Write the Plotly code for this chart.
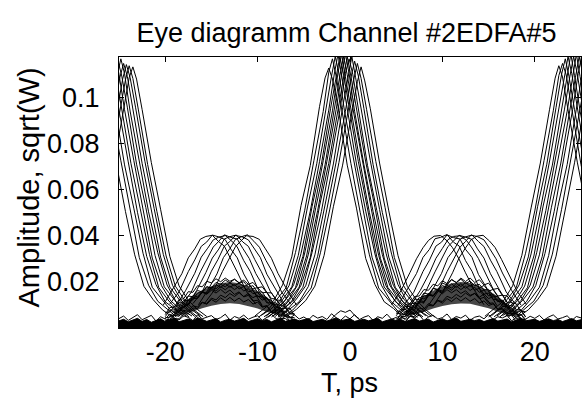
import plotly.graph_objects as go

# ---------------- data ----------------
# centre pulses (bit at T ~ 0)
CENTER_T = [
    [-10.3,-9.3,-8.3,-7.3,-6.3,-5.3,-4.3,-3.3,-2.7,-2.3,-1.9,-1.3,-0.3,0.7,1.7,2.7,3.7,4.7,5.7],
    [-9.9,-8.9,-7.9,-6.9,-5.9,-4.9,-3.9,-2.9,-2.3,-1.9,-1.5,-0.9,0.1,1.1,2.1,3.1,4.1,5.1,6.1],
    [-9.6,-8.6,-7.6,-6.6,-5.6,-4.6,-3.6,-2.6,-2.0,-1.6,-1.2,-0.6,0.4,1.4,2.4,3.4,4.4,5.4,6.4],
    [-9.3,-8.3,-7.3,-6.3,-5.3,-4.3,-3.3,-2.3,-1.7,-1.3,-0.9,-0.3,0.7,1.7,2.7,3.7,4.7,5.7,6.7],
    [-9.1,-8.1,-7.1,-6.1,-5.1,-4.1,-3.1,-2.1,-1.5,-1.1,-0.7,-0.1,0.9,1.9,2.9,3.9,4.9,5.9,6.9],
    [-8.9,-7.9,-6.9,-5.9,-4.9,-3.9,-2.9,-1.9,-1.3,-0.9,-0.5,0.1,1.1,2.1,3.1,4.1,5.1,6.1,7.1],
    [-8.7,-7.7,-6.7,-5.7,-4.7,-3.7,-2.7,-1.7,-1.1,-0.7,-0.3,0.3,1.3,2.3,3.3,4.3,5.3,6.3,7.3],
    [-8.5,-7.5,-6.5,-5.5,-4.5,-3.5,-2.5,-1.5,-0.9,-0.5,-0.1,0.5,1.5,2.5,3.5,4.5,5.5,6.5,7.5],
    [-8.3,-7.3,-6.3,-5.3,-4.3,-3.3,-2.3,-1.3,-0.7,-0.3,0.1,0.7,1.7,2.7,3.7,4.7,5.7,6.7,7.7],
    [-8.1,-7.1,-6.1,-5.1,-4.1,-3.1,-2.1,-1.1,-0.5,-0.1,0.3,0.9,1.9,2.9,3.9,4.9,5.9,6.9,7.9],
    [-7.8,-6.8,-5.8,-4.8,-3.8,-2.8,-1.8,-0.8,-0.2,0.2,0.6,1.2,2.2,3.2,4.2,5.2,6.2,7.2,8.2],
    [-7.5,-6.5,-5.5,-4.5,-3.5,-2.5,-1.5,-0.5,0.1,0.5,0.9,1.5,2.5,3.5,4.5,5.5,6.5,7.5,8.5],
    [-7.2,-6.2,-5.2,-4.2,-3.2,-2.2,-1.2,-0.2,0.4,0.8,1.2,1.8,2.8,3.8,4.8,5.8,6.8,7.8,8.8],
    [-6.8,-5.8,-4.8,-3.8,-2.8,-1.8,-0.8,0.2,0.8,1.2,1.6,2.2,3.2,4.2,5.2,6.2,7.2,8.2,9.2],
]
CENTER_A = [
    [0.0052,0.0083,0.0116,0.0187,0.0309,0.0532,0.0706,0.0962,0.1087,0.1130,0.1082,0.0963,0.0708,0.0521,0.0302,0.0189,0.0114,0.0085,0.0048],
    [0.0047,0.0078,0.0125,0.0176,0.0328,0.0512,0.0729,0.0941,0.1112,0.1170,0.1095,0.0956,0.0715,0.0503,0.0318,0.0174,0.0123,0.0077,0.0053],
    [0.0055,0.0081,0.0118,0.0184,0.0315,0.0526,0.0714,0.0958,0.1095,0.1180,0.1108,0.0944,0.0726,0.0514,0.0305,0.0186,0.0117,0.0082,0.0049],
    [0.0049,0.0076,0.0123,0.0179,0.0324,0.0508,0.0723,0.0947,0.1104,0.1190,0.1098,0.0952,0.0713,0.0508,0.0322,0.0178,0.0126,0.0079,0.0051],
    [0.0051,0.0084,0.0115,0.0188,0.0311,0.0529,0.0711,0.0955,0.1091,0.1180,0.1105,0.0959,0.0724,0.0517,0.0309,0.0183,0.0115,0.0084,0.0047],
    [0.0046,0.0079,0.0127,0.0175,0.0326,0.0515,0.0727,0.0944,0.1109,0.1190,0.1093,0.0946,0.0717,0.0502,0.0316,0.0176,0.0124,0.0078,0.0054],
    [0.0053,0.0082,0.0119,0.0185,0.0313,0.0524,0.0709,0.0961,0.1096,0.1180,0.1101,0.0957,0.0729,0.0519,0.0301,0.0187,0.0119,0.0083,0.0046],
    [0.0048,0.0077,0.0124,0.0178,0.0321,0.0511,0.0725,0.0949,0.1102,0.1190,0.1107,0.0942,0.0711,0.0506,0.0319,0.0179,0.0125,0.0076,0.0052],
    [0.0054,0.0080,0.0117,0.0186,0.0307,0.0530,0.0716,0.0953,0.1093,0.1180,0.1094,0.0961,0.0722,0.0524,0.0304,0.0185,0.0116,0.0081,0.0050],
    [0.0050,0.0085,0.0121,0.0177,0.0329,0.0506,0.0730,0.0945,0.1106,0.1170,0.1103,0.0950,0.0706,0.0511,0.0325,0.0177,0.0122,0.0080,0.0048],
    [0.0047,0.0079,0.0126,0.0183,0.0318,0.0521,0.0713,0.0959,0.1099,0.1180,0.1090,0.0948,0.0727,0.0515,0.0308,0.0188,0.0113,0.0084,0.0053],
    [0.0052,0.0083,0.0114,0.0181,0.0312,0.0517,0.0721,0.0942,0.1088,0.1160,0.1096,0.0955,0.0710,0.0502,0.0321,0.0175,0.0127,0.0077,0.0049],
    [0.0049,0.0078,0.0122,0.0174,0.0327,0.0513,0.0719,0.0951,0.1079,0.1150,0.1085,0.0949,0.0723,0.0523,0.0306,0.0184,0.0118,0.0082,0.0051],
    [0.0053,0.0081,0.0119,0.0182,0.0316,0.0527,0.0708,0.0946,0.1071,0.1135,0.1074,0.0953,0.0717,0.0509,0.0314,0.0181,0.0121,0.0079,0.0047],
]

# pulses of the previous bit (left edge)
LEFT_EDGE_T = [
    [-28.3,-27.7,-27.3,-26.9,-26.3,-25.3,-24.3,-23.3,-22.3,-21.3,-20.3,-19.3],
    [-27.8,-27.2,-26.8,-26.4,-25.8,-24.8,-23.8,-22.8,-21.8,-20.8,-19.8,-18.8],
    [-27.4,-26.8,-26.4,-26.0,-25.4,-24.4,-23.4,-22.4,-21.4,-20.4,-19.4,-18.4],
    [-27.0,-26.4,-26.0,-25.6,-25.0,-24.0,-23.0,-22.0,-21.0,-20.0,-19.0,-18.0],
    [-26.7,-26.1,-25.7,-25.3,-24.7,-23.7,-22.7,-21.7,-20.7,-19.7,-18.7,-17.7],
    [-26.4,-25.8,-25.4,-25.0,-24.4,-23.4,-22.4,-21.4,-20.4,-19.4,-18.4,-17.4],
    [-26.1,-25.5,-25.1,-24.7,-24.1,-23.1,-22.1,-21.1,-20.1,-19.1,-18.1,-17.1],
    [-25.8,-25.2,-24.8,-24.4,-23.8,-22.8,-21.8,-20.8,-19.8,-18.8,-17.8,-16.8],
    [-25.5,-24.9,-24.5,-24.1,-23.5,-22.5,-21.5,-20.5,-19.5,-18.5,-17.5,-16.5],
    [-25.2,-24.6,-24.2,-23.8,-23.2,-22.2,-21.2,-20.2,-19.2,-18.2,-17.2,-16.2],
    [-25.9,-24.9,-24.3,-23.9,-23.5,-22.9,-21.9,-20.9,-19.9,-18.9,-17.9,-16.9,-15.9],
    [-25.5,-24.5,-23.9,-23.5,-23.1,-22.5,-21.5,-20.5,-19.5,-18.5,-17.5,-16.5,-15.5],
]
LEFT_EDGE_A = [
    [0.0950,0.1100,0.1170,0.1100,0.0950,0.0718,0.0506,0.0318,0.0181,0.0123,0.0079,0.0050],
    [0.0955,0.1092,0.1180,0.1105,0.0944,0.0727,0.0514,0.0306,0.0186,0.0116,0.0083,0.0048],
    [0.0946,0.1104,0.1190,0.1097,0.0958,0.0709,0.0521,0.0325,0.0177,0.0125,0.0077,0.0053],
    [0.0952,0.1096,0.1180,0.1108,0.0947,0.0722,0.0503,0.0311,0.0189,0.0114,0.0084,0.0049],
    [0.0958,0.1101,0.1190,0.1092,0.0955,0.0714,0.0518,0.0320,0.0176,0.0122,0.0078,0.0051],
    [0.0943,0.1093,0.1180,0.1103,0.0949,0.0729,0.0509,0.0304,0.0184,0.0118,0.0082,0.0047],
    [0.0951,0.1107,0.1160,0.1095,0.0960,0.0712,0.0524,0.0315,0.0179,0.0126,0.0076,0.0052],
    [0.0947,0.1098,0.1170,0.1106,0.0943,0.0720,0.0505,0.0327,0.0187,0.0113,0.0085,0.0050],
    [0.0954,0.1090,0.1150,0.1094,0.0952,0.0716,0.0513,0.0308,0.0178,0.0124,0.0080,0.0048],
    [0.0945,0.1083,0.1145,0.1089,0.0957,0.0725,0.0520,0.0319,0.0185,0.0117,0.0081,0.0053],
    [0.0718,0.0949,0.1079,0.1140,0.1085,0.0948,0.0711,0.0507,0.0313,0.0182,0.0121,0.0079,0.0049],
    [0.0722,0.0953,0.1088,0.1135,0.1082,0.0950,0.0719,0.0516,0.0311,0.0183,0.0120,0.0080,0.0050],
]

# pulses of the next bit (right edge)
RIGHT_EDGE_T = [
    [14.6,15.6,16.6,17.6,18.6,19.6,20.6,21.6,22.2,22.6,23.0,23.6,24.6,25.6],
    [15.0,16.0,17.0,18.0,19.0,20.0,21.0,22.0,22.6,23.0,23.4,24.0,25.0,26.0],
    [15.3,16.3,17.3,18.3,19.3,20.3,21.3,22.3,22.9,23.3,23.7,24.3,25.3],
    [15.6,16.6,17.6,18.6,19.6,20.6,21.6,22.6,23.2,23.6,24.0,24.6,25.6],
    [15.9,16.9,17.9,18.9,19.9,20.9,21.9,22.9,23.5,23.9,24.3,24.9,25.9],
    [16.2,17.2,18.2,19.2,20.2,21.2,22.2,23.2,23.8,24.2,24.6,25.2],
    [16.5,17.5,18.5,19.5,20.5,21.5,22.5,23.5,24.1,24.5,24.9,25.5],
    [16.8,17.8,18.8,19.8,20.8,21.8,22.8,23.8,24.4,24.8,25.2],
    [17.1,18.1,19.1,20.1,21.1,22.1,23.1,24.1,24.7,25.1,25.5],
    [17.5,18.5,19.5,20.5,21.5,22.5,23.5,24.5,25.1,25.5],
    [17.9,18.9,19.9,20.9,21.9,22.9,23.9,24.9,25.5,25.9],
    [18.3,19.3,20.3,21.3,22.3,23.3,24.3,25.3,25.9],
]
RIGHT_EDGE_A = [
    [0.0051,0.0082,0.0117,0.0183,0.0316,0.0522,0.0717,0.0951,0.1086,0.1140,0.1091,0.0948,0.0721,0.0515],
    [0.0048,0.0079,0.0124,0.0176,0.0325,0.0509,0.0728,0.0944,0.1097,0.1150,0.1100,0.0956,0.0710,0.0520],
    [0.0053,0.0084,0.0118,0.0187,0.0309,0.0527,0.0712,0.0959,0.1103,0.1170,0.1094,0.0949,0.0724],
    [0.0049,0.0077,0.0125,0.0179,0.0322,0.0514,0.0726,0.0946,0.1092,0.1180,0.1106,0.0957,0.0715],
    [0.0052,0.0081,0.0116,0.0182,0.0313,0.0530,0.0708,0.0955,0.1108,0.1190,0.1097,0.0943,0.0729],
    [0.0047,0.0085,0.0121,0.0175,0.0327,0.0511,0.0721,0.0948,0.1095,0.1180,0.1104,0.0952],
    [0.0054,0.0078,0.0119,0.0186,0.0318,0.0519,0.0730,0.0942,0.1101,0.1190,0.1093,0.0958],
    [0.0050,0.0083,0.0126,0.0178,0.0310,0.0525,0.0713,0.0957,0.1090,0.1180,0.1102],
    [0.0046,0.0080,0.0114,0.0184,0.0324,0.0507,0.0724,0.0950,0.1106,0.1190,0.1099],
    [0.0053,0.0076,0.0122,0.0177,0.0315,0.0528,0.0710,0.0945,0.1098,0.1170],
    [0.0048,0.0084,0.0117,0.0185,0.0321,0.0516,0.0727,0.0953,0.1087,0.1160],
    [0.0051,0.0079,0.0123,0.0180,0.0312,0.0523,0.0718,0.0947,0.1094],
]

# 0.04 humps between the bits
HUMP_L_T = [
    [-20.2,-19.2,-18.2,-17.5,-16.8,-16.2,-15.6,-14.9,-14.2,-13.6,-12.9,-12.2,-11.2,-10.2],
    [-19.5,-18.5,-17.5,-16.8,-16.1,-15.5,-14.9,-14.2,-13.5,-12.9,-12.2,-11.5,-10.5,-9.5],
    [-18.8,-17.8,-16.8,-16.1,-15.4,-14.8,-14.2,-13.5,-12.8,-12.2,-11.5,-10.8,-9.8,-8.8],
    [-18.2,-17.2,-16.2,-15.5,-14.8,-14.2,-13.6,-12.9,-12.2,-11.6,-10.9,-10.2,-9.2,-8.2],
    [-17.6,-16.6,-15.6,-14.9,-14.2,-13.6,-13.0,-12.3,-11.6,-11.0,-10.3,-9.6,-8.6,-7.6],
    [-17.0,-16.0,-15.0,-14.3,-13.6,-13.0,-12.4,-11.7,-11.0,-10.4,-9.7,-9.0,-8.0,-7.0],
    [-16.4,-15.4,-14.4,-13.7,-13.0,-12.4,-11.8,-11.1,-10.4,-9.8,-9.1,-8.4,-7.4,-6.4],
    [-15.8,-14.8,-13.8,-13.1,-12.4,-11.8,-11.2,-10.5,-9.8,-9.2,-8.5,-7.8,-6.8,-5.8],
]
HUMP_L_A = [
    [0.0100,0.0165,0.0236,0.0305,0.0344,0.0386,0.0398,0.0403,0.0375,0.0356,0.0296,0.0243,0.0158,0.0104],
    [0.0105,0.0157,0.0245,0.0296,0.0355,0.0374,0.0404,0.0396,0.0384,0.0343,0.0305,0.0235,0.0163,0.0098],
    [0.0097,0.0162,0.0238,0.0308,0.0347,0.0383,0.0395,0.0402,0.0378,0.0352,0.0293,0.0246,0.0155,0.0106],
    [0.0103,0.0154,0.0244,0.0298,0.0352,0.0377,0.0405,0.0394,0.0386,0.0346,0.0302,0.0237,0.0166,0.0099],
    [0.0099,0.0163,0.0241,0.0304,0.0343,0.0387,0.0397,0.0404,0.0374,0.0355,0.0297,0.0245,0.0157,0.0102],
    [0.0106,0.0156,0.0247,0.0297,0.0356,0.0376,0.0402,0.0397,0.0383,0.0345,0.0306,0.0234,0.0164,0.0097],
    [0.0101,0.0164,0.0235,0.0306,0.0345,0.0385,0.0396,0.0405,0.0377,0.0351,0.0294,0.0244,0.0156,0.0103],
    [0.0104,0.0158,0.0246,0.0299,0.0353,0.0379,0.0401,0.0398,0.0385,0.0347,0.0303,0.0238,0.0165,0.0100],
]
HUMP_R_T = [
    [4.5,5.5,6.5,7.2,7.9,8.5,9.1,9.8,10.5,11.1,11.8,12.5,13.5,14.5],
    [5.2,6.2,7.2,7.9,8.6,9.2,9.8,10.5,11.2,11.8,12.5,13.2,14.2,15.2],
    [5.9,6.9,7.9,8.6,9.3,9.9,10.5,11.2,11.9,12.5,13.2,13.9,14.9,15.9],
    [6.6,7.6,8.6,9.3,10.0,10.6,11.2,11.9,12.6,13.2,13.9,14.6,15.6,16.6],
    [7.2,8.2,9.2,9.9,10.6,11.2,11.8,12.5,13.2,13.8,14.5,15.2,16.2,17.2],
    [7.9,8.9,9.9,10.6,11.3,11.9,12.5,13.2,13.9,14.5,15.2,15.9,16.9,17.9],
    [8.5,9.5,10.5,11.2,11.9,12.5,13.1,13.8,14.5,15.1,15.8,16.5,17.5,18.5],
    [9.1,10.1,11.1,11.8,12.5,13.1,13.7,14.4,15.1,15.7,16.4,17.1,18.1,19.1],
]
HUMP_R_A = [
    [0.0102,0.0161,0.0242,0.0301,0.0349,0.0381,0.0399,0.0402,0.0379,0.0349,0.0300,0.0240,0.0162,0.0101],
    [0.0098,0.0166,0.0237,0.0307,0.0342,0.0388,0.0394,0.0406,0.0373,0.0357,0.0293,0.0247,0.0154,0.0105],
    [0.0104,0.0155,0.0246,0.0295,0.0356,0.0373,0.0405,0.0393,0.0387,0.0342,0.0307,0.0233,0.0167,0.0097],
    [0.0100,0.0163,0.0239,0.0303,0.0346,0.0384,0.0398,0.0401,0.0381,0.0348,0.0302,0.0241,0.0160,0.0103],
    [0.0097,0.0159,0.0244,0.0298,0.0354,0.0378,0.0403,0.0395,0.0385,0.0344,0.0304,0.0236,0.0164,0.0099],
    [0.0105,0.0164,0.0237,0.0306,0.0343,0.0386,0.0396,0.0404,0.0376,0.0354,0.0295,0.0245,0.0157,0.0104],
    [0.0099,0.0157,0.0245,0.0300,0.0351,0.0376,0.0404,0.0397,0.0383,0.0346,0.0301,0.0239,0.0163,0.0100],
    [0.0103,0.0162,0.0240,0.0304,0.0348,0.0383,0.0399,0.0403,0.0378,0.0350,0.0298,0.0243,0.0159,0.0102],
]

# low noisy humps (~0.015)
LOW_T_L = [-20.0,-19.5,-19.0,-18.5,-18.0,-17.5,-17.0,-16.5,-16.0,-15.5,-15.0,-14.5,-14.0,-13.5,-13.0,
           -12.5,-12.0,-11.5,-11.0,-10.5,-10.0,-9.5,-9.0,-8.5,-8.0,-7.5,-7.0,-6.5,-6.0]
LOW_A_L = [
    [0.0058,0.0089,0.0091,0.0124,0.0127,0.0158,0.0155,0.0184,0.0179,0.0203,0.0196,0.0214,0.0201,0.0217,0.0203,0.0212,0.0195,0.0201,0.0178,0.0184,0.0155,0.0157,0.0125,0.0121,0.0091,0.0086,0.0057,0.0049,0.0032],
    [0.0034,0.0038,0.0063,0.0068,0.0094,0.0099,0.0128,0.0129,0.0156,0.0152,0.0177,0.0170,0.0190,0.0179,0.0196,0.0184,0.0195,0.0180,0.0189,0.0170,0.0176,0.0153,0.0155,0.0128,0.0126,0.0098,0.0093,0.0066,0.0061],
    [0.0045,0.0047,0.0074,0.0073,0.0104,0.0102,0.0133,0.0129,0.0156,0.0148,0.0171,0.0160,0.0180,0.0166,0.0183,0.0167,0.0181,0.0161,0.0171,0.0149,0.0155,0.0130,0.0132,0.0103,0.0104,0.0074,0.0073,0.0046,0.0045],
    [0.0068,0.0069,0.0095,0.0096,0.0121,0.0119,0.0141,0.0136,0.0156,0.0147,0.0164,0.0152,0.0168,0.0151,0.0165,0.0146,0.0157,0.0135,0.0142,0.0117,0.0121,0.0094,0.0096,0.0068,0.0067,0.0043,0.0041,0.0029,0.0022],
    [0.0021,0.0018,0.0039,0.0040,0.0062,0.0061,0.0087,0.0085,0.0110,0.0107,0.0130,0.0122,0.0143,0.0132,0.0150,0.0137,0.0153,0.0137,0.0150,0.0132,0.0142,0.0121,0.0130,0.0106,0.0110,0.0084,0.0087,0.0061,0.0060],
    [0.0034,0.0031,0.0055,0.0051,0.0077,0.0072,0.0097,0.0091,0.0113,0.0103,0.0124,0.0112,0.0131,0.0117,0.0133,0.0117,0.0130,0.0113,0.0124,0.0104,0.0113,0.0090,0.0097,0.0071,0.0077,0.0050,0.0055,0.0030,0.0035],
    [0.0049,0.0077,0.0079,0.0110,0.0109,0.0139,0.0136,0.0163,0.0157,0.0180,0.0170,0.0189,0.0176,0.0193,0.0177,0.0189,0.0170,0.0180,0.0157,0.0163,0.0136,0.0139,0.0109,0.0110,0.0078,0.0077,0.0049,0.0048,0.0022],
    [0.0025,0.0051,0.0056,0.0085,0.0088,0.0120,0.0122,0.0153,0.0153,0.0179,0.0175,0.0198,0.0190,0.0208,0.0197,0.0212,0.0197,0.0208,0.0190,0.0198,0.0175,0.0179,0.0153,0.0153,0.0122,0.0120,0.0087,0.0085,0.0055],
]
LOW_T_R = [5.0,5.5,6.0,6.5,7.0,7.5,8.0,8.5,9.0,9.5,10.0,10.5,11.0,11.5,12.0,
           12.5,13.0,13.5,14.0,14.5,15.0,15.5,16.0,16.5,17.0,17.5,18.0,18.5,19.0]
LOW_A_R = [
    [0.0070,0.0071,0.0102,0.0105,0.0137,0.0139,0.0167,0.0164,0.0190,0.0183,0.0205,0.0193,0.0211,0.0197,0.0212,0.0193,0.0204,0.0184,0.0190,0.0165,0.0168,0.0139,0.0136,0.0106,0.0101,0.0071,0.0069,0.0038,0.0037],
    [0.0023,0.0049,0.0050,0.0080,0.0079,0.0113,0.0111,0.0143,0.0139,0.0168,0.0160,0.0185,0.0173,0.0194,0.0180,0.0198,0.0181,0.0193,0.0174,0.0185,0.0160,0.0168,0.0139,0.0143,0.0111,0.0113,0.0079,0.0080,0.0049],
    [0.0031,0.0060,0.0058,0.0089,0.0087,0.0119,0.0115,0.0146,0.0138,0.0165,0.0154,0.0177,0.0164,0.0183,0.0167,0.0182,0.0163,0.0177,0.0155,0.0165,0.0139,0.0146,0.0116,0.0118,0.0088,0.0088,0.0058,0.0060,0.0031],
    [0.0053,0.0082,0.0080,0.0109,0.0106,0.0133,0.0126,0.0150,0.0141,0.0162,0.0149,0.0167,0.0153,0.0167,0.0150,0.0162,0.0142,0.0150,0.0127,0.0133,0.0107,0.0109,0.0081,0.0082,0.0054,0.0056,0.0028,0.0032,0.0011],
    [0.0010,0.0030,0.0027,0.0051,0.0049,0.0074,0.0073,0.0098,0.0096,0.0120,0.0115,0.0138,0.0129,0.0146,0.0134,0.0152,0.0138,0.0151,0.0134,0.0147,0.0128,0.0137,0.0114,0.0121,0.0095,0.0099,0.0072,0.0075,0.0048],
    [0.0022,0.0045,0.0041,0.0065,0.0062,0.0087,0.0082,0.0106,0.0098,0.0119,0.0108,0.0128,0.0115,0.0132,0.0117,0.0132,0.0116,0.0128,0.0109,0.0118,0.0098,0.0105,0.0081,0.0086,0.0063,0.0064,0.0041,0.0045,0.0022],
    [0.0064,0.0062,0.0094,0.0093,0.0126,0.0123,0.0152,0.0147,0.0173,0.0164,0.0186,0.0172,0.0192,0.0176,0.0193,0.0173,0.0186,0.0164,0.0173,0.0147,0.0152,0.0123,0.0125,0.0094,0.0093,0.0062,0.0064,0.0033,0.0036],
    [0.0040,0.0039,0.0071,0.0073,0.0105,0.0108,0.0140,0.0141,0.0172,0.0168,0.0195,0.0187,0.0210,0.0198,0.0217,0.0202,0.0217,0.0198,0.0210,0.0187,0.0195,0.0168,0.0172,0.0141,0.0140,0.0108,0.0105,0.0072,0.0071],
]

# dense part of the low humps (upper / lower envelope)
BAND_T_L = [-19.0,-18.0,-17.0,-16.0,-15.0,-14.0,-13.0,-12.0,-11.0,-10.0,-9.0,-8.0,-7.0]
BAND_UP_L = [0.0080,0.0110,0.0140,0.0165,0.0182,0.0195,0.0200,0.0195,0.0180,0.0160,0.0135,0.0100,0.0070]
BAND_LO_L = [0.0050,0.0060,0.0072,0.0086,0.0097,0.0104,0.0108,0.0104,0.0096,0.0085,0.0070,0.0058,0.0048]
BAND_T_R = [6.0,7.0,8.0,9.0,10.0,11.0,12.0,13.0,14.0,15.0,16.0,17.0,18.0]
BAND_UP_R = [0.0075,0.0105,0.0138,0.0162,0.0180,0.0194,0.0200,0.0196,0.0182,0.0162,0.0138,0.0104,0.0072]
BAND_LO_R = [0.0049,0.0059,0.0071,0.0085,0.0096,0.0103,0.0107,0.0105,0.0097,0.0086,0.0071,0.0059,0.0048]

# noise floor ("0" bits)
FLOOR_T = [-25.0,-24.5,-24.0,-23.5,-23.0,-22.5,-22.0,-21.5,-21.0,-20.5,
           -20.0,-19.5,-19.0,-18.5,-18.0,-17.5,-17.0,-16.5,-16.0,-15.5,
           -15.0,-14.5,-14.0,-13.5,-13.0,-12.5,-12.0,-11.5,-11.0,-10.5,
           -10.0,-9.5,-9.0,-8.5,-8.0,-7.5,-7.0,-6.5,-6.0,-5.5,
           -5.0,-4.5,-4.0,-3.5,-3.0,-2.5,-2.0,-1.5,-1.0,-0.5,
           0.0,0.5,1.0,1.5,2.0,2.5,3.0,3.5,4.0,4.5,
           5.0,5.5,6.0,6.5,7.0,7.5,8.0,8.5,9.0,9.5,
           10.0,10.5,11.0,11.5,12.0,12.5,13.0,13.5,14.0,14.5,
           15.0,15.5,16.0,16.5,17.0,17.5,18.0,18.5,19.0,19.5,
           20.0,20.5,21.0,21.5,22.0,22.5,23.0,23.5,24.0,24.5,25.0]
FLOOR_A1 = [0.0031,0.0038,0.0027,0.0035,0.0042,0.0029,0.0037,0.0025,0.0034,0.0040,
            0.0028,0.0036,0.0043,0.0027,0.0033,0.0039,0.0031,0.0045,0.0037,0.0029,
            0.0035,0.0041,0.0026,0.0034,0.0038,0.0030,0.0036,0.0042,0.0028,0.0033,
            0.0040,0.0032,0.0037,0.0027,0.0035,0.0043,0.0029,0.0034,0.0039,0.0031,
            0.0036,0.0041,0.0028,0.0033,0.0038,0.0030,0.0037,0.0044,0.0032,0.0035,
            0.0040,0.0029,0.0034,0.0038,0.0031,0.0036,0.0042,0.0027,0.0033,0.0039,
            0.0032,0.0037,0.0028,0.0035,0.0041,0.0030,0.0034,0.0038,0.0026,0.0033,
            0.0040,0.0031,0.0036,0.0043,0.0029,0.0034,0.0038,0.0032,0.0037,0.0028,
            0.0035,0.0041,0.0030,0.0033,0.0039,0.0027,0.0036,0.0042,0.0031,0.0034,
            0.0038,0.0029,0.0035,0.0040,0.0032,0.0037,0.0028,0.0034,0.0041,0.0031,0.0036]
FLOOR_A2 = [0.0041,0.0052,0.0033,0.0047,0.0058,0.0036,0.0044,0.0055,0.0030,0.0049,
            0.0039,0.0061,0.0043,0.0035,0.0053,0.0046,0.0032,0.0057,0.0040,0.0048,
            0.0054,0.0037,0.0045,0.0060,0.0034,0.0050,0.0042,0.0056,0.0038,0.0047,
            0.0053,0.0033,0.0046,0.0059,0.0041,0.0036,0.0051,0.0044,0.0057,0.0039,
            0.0048,0.0035,0.0055,0.0043,0.0050,0.0037,0.0062,0.0045,0.0034,0.0052,
            0.0040,0.0058,0.0036,0.0047,0.0054,0.0033,0.0049,0.0042,0.0060,0.0038,
            0.0046,0.0053,0.0035,0.0051,0.0044,0.0057,0.0032,0.0048,0.0055,0.0039,
            0.0045,0.0061,0.0037,0.0050,0.0043,0.0056,0.0034,0.0047,0.0052,0.0040,
            0.0058,0.0036,0.0049,0.0044,0.0054,0.0031,0.0046,0.0059,0.0038,0.0051,
            0.0042,0.0055,0.0035,0.0048,0.0057,0.0039,0.0045,0.0053,0.0033,0.0050,0.0044]

# small bump in the floor near T = 0
BUMP_T = [-2.0,-1.5,-1.0,-0.5,0.0,0.5,1.0]
BUMP_A = [0.0040,0.0060,0.0075,0.0068,0.0078,0.0055,0.0040]

X_TICKS = [-20, -10, 0, 10, 20]
X_TICK_TEXT = ["-20", "-10", "0", "10", "20"]
Y_TICKS = [0.02, 0.04, 0.06, 0.08, 0.1]
Y_TICK_TEXT = ["0.02", "0.04", "0.06", "0.08", "0.1"]

TITLE = "Eye diagramm Channel #2EDFA#5"
X_TITLE = "T, ps"
Y_TITLE = "Amplitude, sqrt(W)"

# ---------------- figure ----------------
LINE = dict(color="black", width=1)
FONT = "Liberation Sans, Arial, Helvetica, sans-serif"

fig = go.Figure()

# dense low-hump bands
for bt, up, lo in [(BAND_T_L, BAND_UP_L, BAND_LO_L), (BAND_T_R, BAND_UP_R, BAND_LO_R)]:
    fig.add_trace(go.Scatter(x=bt, y=lo, mode="lines", line=dict(width=0), hoverinfo="skip"))
    fig.add_trace(go.Scatter(x=bt, y=up, mode="lines", line=dict(width=0), fill="tonexty",
                             fillcolor="rgba(0,0,0,0.72)", hoverinfo="skip"))

# floor band (solid black) and spiky floor line
fig.add_trace(go.Scatter(x=FLOOR_T, y=FLOOR_A1, mode="lines", line=LINE,
                         fill="tozeroy", fillcolor="black", hoverinfo="skip"))
fig.add_trace(go.Scatter(x=FLOOR_T, y=FLOOR_A2, mode="lines", line=LINE, hoverinfo="skip"))
fig.add_trace(go.Scatter(x=BUMP_T, y=BUMP_A, mode="lines", line=LINE, hoverinfo="skip"))

for a in LOW_A_L:
    fig.add_trace(go.Scatter(x=LOW_T_L, y=a, mode="lines", line=LINE, hoverinfo="skip"))
for a in LOW_A_R:
    fig.add_trace(go.Scatter(x=LOW_T_R, y=a, mode="lines", line=LINE, hoverinfo="skip"))

for group_t, group_a in [(HUMP_L_T, HUMP_L_A), (HUMP_R_T, HUMP_R_A),
                         (CENTER_T, CENTER_A), (LEFT_EDGE_T, LEFT_EDGE_A),
                         (RIGHT_EDGE_T, RIGHT_EDGE_A)]:
    for t, a in zip(group_t, group_a):
        fig.add_trace(go.Scatter(x=t, y=a, mode="lines", line=LINE, hoverinfo="skip"))

axis_common = dict(
    showline=True, linecolor="black", linewidth=1, mirror="ticks",
    ticks="inside", ticklen=5, tickcolor="black", tickwidth=1,
    showgrid=False, zeroline=False, automargin=False,
    tickfont=dict(family=FONT, size=27, color="black"),
)

fig.update_layout(
    width=582, height=401,
    margin=dict(l=119, r=1, t=57, b=73),
    paper_bgcolor="white", plot_bgcolor="white",
    showlegend=False, hovermode=False,
    font=dict(family=FONT, color="black"),
    title=dict(text=TITLE, xref="paper", x=(346.5 - 119) / 462, xanchor="center",
               yref="container", y=1 - 33 / 401, yanchor="middle",
               font=dict(family=FONT, size=27, color="black")),
    xaxis=dict(range=[-25, 25], tickvals=X_TICKS, ticktext=X_TICK_TEXT, **axis_common),
    yaxis=dict(range=[0, 0.1178], tickvals=Y_TICKS, ticktext=Y_TICK_TEXT,
               ticklabelstandoff=13, **axis_common),
    annotations=[
        dict(text=X_TITLE, xref="paper", yref="paper",
             x=(349.5 - 119) / 462, y=-(383 - 328) / 271,
             xanchor="center", yanchor="middle", showarrow=False,
             font=dict(family=FONT, size=27, color="black")),
        dict(text=Y_TITLE, xref="paper", yref="paper",
             x=-(119 - 28) / 462, y=(328 - 187.5) / 271, textangle=-90,
             xanchor="center", yanchor="middle", showarrow=False,
             font=dict(family=FONT, size=29, color="black")),
    ],
)

# the page has a default 8px body margin; remove it so the figure sits at (0, 0)
fig.write_html("out.html",
               config={"displayModeBar": False, "staticPlot": True},
               post_script="document.body.style.margin='0';document.body.style.overflow='hidden';")
